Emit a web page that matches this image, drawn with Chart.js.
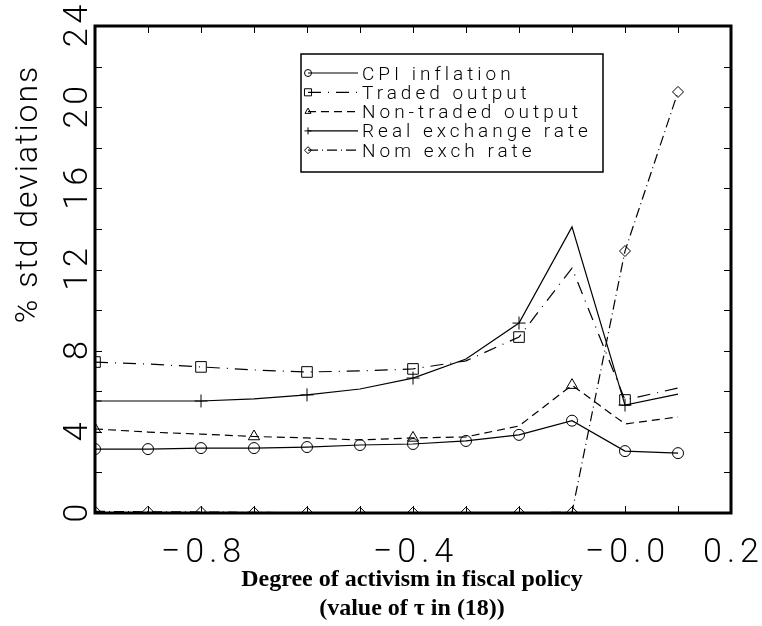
<!DOCTYPE html>
<html>
<head>
<meta charset="utf-8">
<script src="https://cdn.jsdelivr.net/npm/chart.js@4.4.1/dist/chart.umd.min.js"></script>
<style>
    html, body { margin: 0; padding: 0; background: #fff; }
    #wrap { width: 762px; height: 626px; }
</style>
</head>
<body>
<div id="wrap"><canvas id="chart" width="762" height="626"></canvas></div>
<script>
// tau values (x) and % std deviations for each series
const tau = [-1.0, -0.9, -0.8, -0.7, -0.6, -0.5, -0.4, -0.3, -0.2, -0.1, 0.0, 0.1];
const cpiInflation = [3.15, 3.15, 3.2, 3.2, 3.25, 3.35, 3.4, 3.55, 3.85, 4.55, 3.05, 2.95];
const tradedOutput = [7.44, 7.34, 7.2, 7.05, 6.95, 7.0, 7.1, 7.5, 8.67, 12.07, 5.57, 6.16];
const nonTradedOutput = [4.14, 3.99, 3.89, 3.77, 3.7, 3.6, 3.7, 3.75, 4.29, 6.3, 4.39, 4.73];
const realExchRate = [5.52, 5.52, 5.52, 5.62, 5.82, 6.11, 6.65, 7.59, 9.36, 14.1, 5.32, 5.86];
const nomExchRate = [0.08, 0.06, 0.05, 0.03, 0.02, 0.02, 0.02, 0.02, 0.02, 0.03, 12.91, 20.75];

const seriesNames = ['CPI inflation', 'Traded output', 'Non-traded output', 'Real exchange rate', 'Nom exch rate'];

const xTickValues = [-0.8, -0.4, 0.0, 0.2];
const xTickLabels = ['\u22120.8', '\u22120.4', '\u22120.0', '0.2'];
const xMinorTicks = [-0.9, -0.8, -0.7, -0.6, -0.5, -0.4, -0.3, -0.2, -0.1, 0.0, 0.1];
const yTickValues = [0, 4, 8, 12, 16, 20, 24];
const yMinorTicks = [2, 4, 6, 8, 10, 12, 14, 16, 18, 20, 22];

const LIGHT = '"Roboto", "Open Sans", "DejaVu Sans", sans-serif';

function pts(arr) {
    return tau.map((t, i) => ({ x: t, y: arr[i] }));
}

function everyNth(n, r) {
    return ctx => (ctx.dataIndex % n === 0 ? r : 0);
}

const datasets = [
    {
        label: seriesNames[0], data: pts(cpiInflation),
        borderDash: [], pointStyle: 'circle', pointRadius: 5.5
    },
    {
        label: seriesNames[1], data: pts(tradedOutput),
        borderDash: [13, 7, 1, 7], pointStyle: 'rect', pointRadius: everyNth(2, 7.5)
    },
    {
        label: seriesNames[2], data: pts(nonTradedOutput),
        borderDash: [8, 5], pointStyle: 'triangle', pointRadius: everyNth(3, 6.5)
    },
    {
        label: seriesNames[3], data: pts(realExchRate),
        borderDash: [], pointStyle: 'cross', pointRadius: everyNth(2, 6.5)
    },
    {
        label: seriesNames[4], data: pts(nomExchRate),
        borderDash: [10, 4, 1, 4], pointStyle: 'rectRot', pointRadius: 5.5
    }
].map(ds => Object.assign({
    borderColor: '#000',
    borderWidth: 1.2,
    pointBorderColor: '#000',
    pointBackgroundColor: 'rgba(0,0,0,0)',
    pointBorderWidth: 1,
    tension: 0,
    fill: false
}, ds));

function spacedText(ctx, text, x, y, spacing, align) {
    ctx.letterSpacing = spacing + 'px';
    const w = ctx.measureText(text).width - spacing;
    let sx = x;
    if (align === 'center') sx = x - w / 2;
    else if (align === 'right') sx = x - w;
    ctx.textAlign = 'left';
    ctx.fillText(text, sx, y);
    ctx.letterSpacing = '0px';
}

function drawMarker(ctx, style, r, x, y) {
    if (Chart.helpers && Chart.helpers.drawPoint) {
        Chart.helpers.drawPoint(ctx, { pointStyle: style, radius: r, rotation: 0, borderWidth: 1 }, x, y);
    }
}

const framePlugin = {
    id: 'frame',
    afterDraw(chart) {
        const { ctx, chartArea: a, scales: { x, y } } = chart;
        ctx.save();

        // ticks (inside, all four sides)
        ctx.strokeStyle = '#000';
        ctx.lineWidth = 1;
        ctx.setLineDash([]);
        ctx.beginPath();
        xMinorTicks.forEach(v => {
            const px = Math.round(x.getPixelForValue(v)) + 0.5;
            ctx.moveTo(px, a.bottom); ctx.lineTo(px, a.bottom - 7);
            ctx.moveTo(px, a.top); ctx.lineTo(px, a.top + 7);
        });
        yMinorTicks.forEach(v => {
            const py = Math.round(y.getPixelForValue(v)) + 0.5;
            ctx.moveTo(a.left, py); ctx.lineTo(a.left + 7, py);
            ctx.moveTo(a.right, py); ctx.lineTo(a.right - 7, py);
        });
        ctx.stroke();

        // frame
        ctx.lineWidth = 3;
        ctx.strokeRect(a.left, a.top, a.right - a.left, a.bottom - a.top);

        // x tick labels
        ctx.fillStyle = '#000';
        ctx.font = '300 34px ' + LIGHT;
        ctx.textBaseline = 'alphabetic';
        xTickValues.forEach((v, i) => {
            spacedText(ctx, xTickLabels[i], x.getPixelForValue(v), 562, 5, 'center');
        });

        // y tick labels, rotated
        yTickValues.forEach(v => {
            ctx.save();
            ctx.translate(87, y.getPixelForValue(v));
            ctx.rotate(-Math.PI / 2);
            spacedText(ctx, String(v), 0, 0, 5, 'center');
            ctx.restore();
        });

        // y title
        ctx.save();
        ctx.font = '300 32px ' + LIGHT;
        ctx.translate(37, 195);
        ctx.rotate(-Math.PI / 2);
        spacedText(ctx, '% std deviations', 0, 0, 2, 'center');
        ctx.restore();

        // x title
        ctx.font = 'bold 24px "Liberation Serif", "Times New Roman", serif';
        ctx.textAlign = 'center';
        const cx = (a.left + a.right) / 2 - 1;
        ctx.fillText('Degree of activism in fiscal policy', cx, 586);
        ctx.fillText('(value of \u03c4 in (18))', cx, 615);

        // legend
        ctx.lineWidth = 1.5;
        ctx.strokeRect(301, 54, 302, 118);
        ctx.font = '300 19px ' + LIGHT;
        chart.data.datasets.forEach((ds, i) => {
            const ry = 73 + i * 19.3;
            ctx.strokeStyle = '#000';
            ctx.lineWidth = 1.2;
            ctx.setLineDash(ds.borderDash);
            ctx.beginPath();
            ctx.moveTo(308, ry);
            ctx.lineTo(358, ry);
            ctx.stroke();
            ctx.setLineDash([]);
            ctx.lineWidth = 1;
            ctx.fillStyle = 'rgba(0,0,0,0)';
            drawMarker(ctx, ds.pointStyle, ds.pointStyle === 'rect' ? 5 : 3.5, 308, ry);
            ctx.fillStyle = '#000';
            spacedText(ctx, ds.label, 362, ry + 6.5, 4, 'left');
        });

        ctx.restore();
    }
};

new Chart(document.getElementById('chart'), {
    type: 'line',
    data: { datasets },
    options: {
        responsive: false,
        animation: false,
        events: [],
        layout: { padding: { left: 95, right: 31, top: 26, bottom: 113 } },
        plugins: { legend: { display: false }, tooltip: { enabled: false } },
        scales: {
            x: { type: 'linear', min: -1.0, max: 0.2, display: false },
            y: { type: 'linear', min: 0, max: 24, display: false }
        }
    },
    plugins: [framePlugin]
});
</script>
</body>
</html>
